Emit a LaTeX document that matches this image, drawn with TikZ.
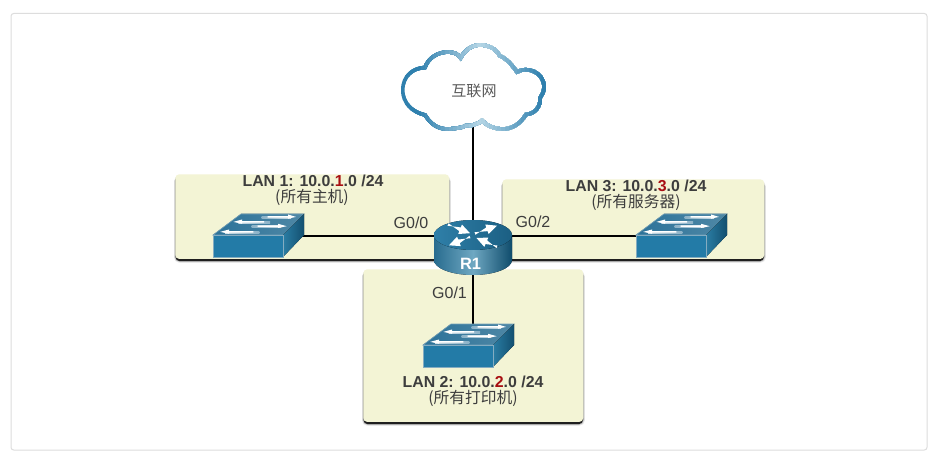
\documentclass[tikz,border=0pt]{standalone}
\usepackage{fontspec}
\setmainfont{Liberation Sans}
\newfontfamily\cjk{Noto Sans CJK SC}
\usetikzlibrary{arrows.meta,calc}
\definecolor{panelfill}{HTML}{F3F4D5}
\definecolor{framegray}{HTML}{DDDDDD}
\definecolor{txt}{HTML}{3D3D3D}
\definecolor{lanred}{HTML}{A80F12}
\definecolor{swfront}{HTML}{237BA7}
\definecolor{swtopa}{HTML}{2C7299}
\definecolor{swtopb}{HTML}{4F88A6}
\definecolor{swsidea}{HTML}{2A7DA4}
\definecolor{swsideb}{HTML}{134F6F}
\definecolor{rdark}{HTML}{0F4C6C}
\definecolor{rmid}{HTML}{6FA8C2}
\definecolor{rtopa}{HTML}{2F7FA8}
\definecolor{rtopb}{HTML}{1B5F83}
\definecolor{cloudl}{HTML}{B6D6E6}
\definecolor{cloudd}{HTML}{2F80AE}
\tikzset{
  x=0.75pt, y=-0.75pt,
  frame/.style={draw=framegray, line width=0.75pt, fill=white, rounded corners=2pt},
  panelbox/.style={fill=panelfill, rounded corners=3pt},
  link/.style={draw=black, line width=2.2pt},
  anchorpt/.style={inner sep=0pt, minimum size=0pt},
  port/.style={font=\fontsize{12pt}{14pt}\selectfont, text=txt, inner sep=0pt},
  lantitle/.style={font=\fontsize{11.9pt}{14pt}\selectfont\bfseries, text=txt, inner sep=0pt, text height=8.4pt, text depth=0.6pt},
  lansub/.style={font=\fontsize{11.8pt}{14pt}\selectfont\cjk, text=txt, inner sep=0pt, text height=8.4pt, text depth=1.6pt},
  pics/switchicon/.style={code={
    \fill[left color=swtopa, right color=swtopb, draw=swtopb!80!white, line width=0.5pt]
      (0,0) -- (28,-21) -- (91,-21) -- (70,0) -- cycle;
    \fill[left color=swsidea, right color=swsideb]
      (70,0) -- (91,-21) -- (91,0) -- (70,22) -- cycle;
    \fill[swfront, draw=swtopb!70!white, line width=0.4pt] (0,0) rectangle (70,22);
    \foreach \xa/\xb/\yy/\hh in {48.7/83/-18.3/75, 38.7/73.7/-9/65}{
      \fill[left color=white!45!swtopa, right color=white!75!swtopa] (\xa,\yy-0.3) rectangle (\xb-5,\yy+1.8);
      \fill[white] (\xa+6,\yy-0.6) -- (\hh,\yy-0.6) -- (\hh,\yy-2.2) -- (\xb,\yy+0.2) -- (\hh,\yy+2) -- (\hh,\yy+0.9) -- (\xa+6,\yy+0.9) -- cycle;
    }
    \foreach \xa/\xb/\yy/\hh in {57/20.3/-13.3/29, 46.3/7/-3.3/16}{
      \fill[right color=white!45!swtopa, left color=white!75!swtopa] (\xb+5,\yy-0.3) rectangle (\xa,\yy+1.8);
      \fill[white] (\xa-6,\yy-0.6) -- (\hh,\yy-0.6) -- (\hh,\yy-2.2) -- (\xb,\yy+0.2) -- (\hh,\yy+2) -- (\hh,\yy+0.9) -- (\xa-6,\yy+0.9) -- cycle;
    }
  }}
}
\def\cloudpath{(402.7,90)
  .. controls (402.7,76) and (413,68) .. (425,67.5)
  .. controls (428,58) and (438,52) .. (448,52)
  .. controls (454,52) and (458,54) .. (460.5,58)
  .. controls (465,50) and (472,45) .. (480,45)
  .. controls (490,45) and (497,50) .. (500,56)
  .. controls (506,58) and (512,65) .. (517,72)
  .. controls (527,66) and (544,72) .. (544,87)
  .. controls (544,92) and (542,95) .. (540,98)
  .. controls (541,106) and (535,114) .. (526,114.5)
  .. controls (520,124) and (512,129) .. (503,129)
  .. controls (494,129) and (486,125) .. (482,120.5)
  .. controls (479,124) and (476,123) .. (473,125)
  .. controls (470,127) and (466,124) .. (463,127)
  .. controls (458,128) and (452,129) .. (447,129)
  .. controls (437,129) and (430,123) .. (425,115)
  .. controls (412,112) and (402.7,103) .. (402.7,90) -- cycle}
\newcommand{\flowwedge}[4]{%
  \coordinate (wt) at (#1,#2);
  \coordinate (wh) at (#3,#4);
  \coordinate (wb) at ($(wh)!8pt!(wt)$);
  \fill[white] ($(wt)!1pt!90:(wh)$) -- ($(wb)!1.5pt!-90:(wh)$) -- ($(wb)!3.8pt!-90:(wh)$) -- (wh) --
    ($(wb)!3.8pt!90:(wh)$) -- ($(wb)!1.5pt!90:(wh)$) -- ($(wt)!1pt!-90:(wh)$) -- cycle;}
\begin{document}
\begin{tikzpicture}
\useasboundingbox (0,0) rectangle (938,463);
\fill[white] (0,0) rectangle (938,463);
\draw[frame] (11,13.5) rectangle (927,450);

% panels
\foreach \xa/\ya/\xb/\yb in {175/174/449/258.7, 502/179/764/258.7, 363/269/583/421.7}{
  \fill[black!10, rounded corners=4pt] (\xa-1,\ya+2) rectangle (\xb+1.8,\yb+4);
  \fill[black!25, rounded corners=4pt] (\xa-0.5,\ya+2) rectangle (\xb+1,\yb+3.3);
  \fill[black!88, rounded corners=3pt] (\xa+0.5,\ya+2) rectangle (\xb,\yb+2.4);
}
\node[panelbox, anchor=north west, minimum width=205.5pt, minimum height=63.5pt, inner sep=0pt] (lanone) at (175,174) {};
\node[panelbox, anchor=north west, minimum width=196.5pt, minimum height=59.8pt, inner sep=0pt] (lanthree) at (502,179) {};
\node[panelbox, anchor=north west, minimum width=165pt, minimum height=114.5pt, inner sep=0pt] (lantwo) at (363,269) {};

% connection anchors
\node[anchorpt] (cloud) at (473,100) {};
\node[anchorpt] (router) at (473,236) {};
\node[anchorpt] (swone) at (280,236) {};
\node[anchorpt] (swtwo) at (473,340) {};
\node[anchorpt] (swthree) at (660,236) {};

% connectors
\draw[link] (router) -- (cloud);
\draw[link] (router) -- (swone);
\draw[link] (router) -- (swtwo);
\draw[link] (router) -- (swthree);

% cloud
\fill[white] \cloudpath;
\foreach \i in {0,...,36}{
  \pgfmathsetmacro{\xx}{401+\i*4}
  \pgfmathsetmacro{\mixv}{max(0,100-abs(\xx-478)*100/62)}
  \begin{scope}
    \clip (\xx,30) rectangle (560,140);
    \draw[draw=cloudl!\mixv!cloudd, line width=2.7pt] \cloudpath;
  \end{scope}
}
\node[font=\fontsize{11.3pt}{14pt}\selectfont\cjk, text=txt!85!white, inner sep=0pt] (inet) at (474,91) {互联网};

% switches
\pic at (213,235) {switchicon};
\pic at (423,345) {switchicon};
\pic at (636,235) {switchicon};

% router
\fill[left color=rtopa!85!black, right color=rdark, middle color=rmid]
  (434,235) -- (434,260) arc[start angle=180, end angle=0, x radius=39, y radius=15] -- (512,235) -- cycle;
\fill[left color=rtopa, right color=rtopb] (473,235) ellipse[x radius=39, y radius=15];
\flowwedge{448}{224.5}{470}{233.2}
\flowwedge{475}{233.5}{497}{225.7}
\flowwedge{470}{237}{449}{245.3}
\flowwedge{497}{246.8}{476.5}{238}
\node[font=\fontsize{12.3pt}{14pt}\selectfont\bfseries, text=white, inner sep=0pt] (rname) at (470.5,263.5) {R1};

% labels
\node[lantitle] (t1) at (313,181) {LAN 1: 10.0.\textcolor{lanred}{1}.0 /24};
\node[lansub] (s1) at (312,197.5) {(所有主机)};
\node[lantitle] (t3) at (636,186) {LAN 3: 10.0.\textcolor{lanred}{3}.0 /24};
\node[lansub] (s3) at (636,202.5) {(所有服务器)};
\node[lantitle] (t2) at (473,382) {LAN 2: 10.0.\textcolor{lanred}{2}.0 /24};
\node[lansub] (s2) at (473,398.5) {(所有打印机)};
\node[port] (g0) at (411,223) {G0/0};
\node[port] (g2) at (533,222) {G0/2};
\node[port] (g1) at (449.5,293) {G0/1};
\end{tikzpicture}
\end{document}
